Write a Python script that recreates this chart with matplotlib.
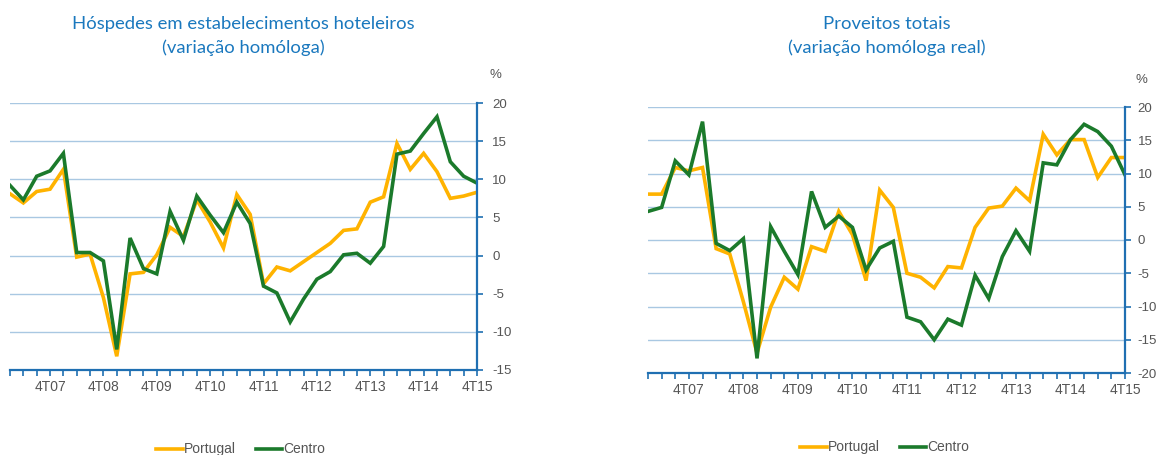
import matplotlib
matplotlib.use("Agg")
import matplotlib.pyplot as plt

plt.rcParams["axes.unicode_minus"] = False

# trimestres 1T07 .. 4T15
trimestres = [f"{q}T{a:02d}" for a in range(7, 16) for q in range(1, 5)]
etiquetas = ["4T07", "4T08", "4T09", "4T10", "4T11", "4T12", "4T13", "4T14", "4T15"]

# Hóspedes (variação homóloga)
hosp_portugal = [8.1, 6.9, 8.4, 8.7, 11.3, -0.2, 0.2, -5.5, -13.2, -2.4, -2.2, 0.1,
                 3.7, 2.5, 7.3, 4.4, 1.0, 8.0, 5.4, -3.7, -1.5, -2.0, -0.8, 0.4,
                 1.6, 3.3, 3.5, 7.0, 7.7, 14.7, 11.3, 13.4, 11.0, 7.5, 7.8, 8.3]
hosp_centro = [9.2, 7.3, 10.4, 11.1, 13.4, 0.4, 0.4, -0.7, -12.3, 2.3, -1.7, -2.4,
               5.8, 2.0, 7.8, 5.3, 3.0, 7.0, 4.2, -4.0, -4.9, -8.7, -5.7, -3.1,
               -2.1, 0.1, 0.3, -1.0, 1.2, 13.3, 13.7, 16.0, 18.2, 12.3, 10.4, 9.5]

# Proveitos totais (variação homóloga real)
prov_portugal = [6.9, 6.9, 10.9, 10.4, 10.9, -1.3, -2.1, -9.3, -17.0, -10.1, -5.6, -7.4,
                 -1.0, -1.7, 4.3, 0.8, -6.1, 7.5, 4.9, -5.0, -5.6, -7.2, -4.0, -4.2,
                 1.9, 4.8, 5.1, 7.8, 5.9, 15.9, 12.8, 15.1, 15.1, 9.4, 12.4, 12.4]
prov_centro = [4.3, 4.9, 11.9, 9.8, 17.8, -0.5, -1.6, 0.2, -17.8, 2.0, -1.7, -5.2,
               7.3, 1.9, 3.6, 1.9, -4.5, -1.2, -0.2, -11.6, -12.3, -15.0, -11.9, -12.8,
               -5.3, -8.8, -2.5, 1.4, -1.7, 11.6, 11.3, 15.1, 17.4, 16.3, 14.1, 9.8]

cor_pt = "#FFB300"
cor_ce = "#1B7A2B"
azul = "#1F6FB2"
cor_titulo = "#1A78BE"
grelha = "#A9C8E2"
cinza = "#555555"

W, H = 1157, 455
fig = plt.figure(figsize=(W / 100, H / 100), dpi=100)


def grafico(rect, pt, ce, ymin, titulo, legx, pos_pct, pad_y):
    ax = fig.add_axes(rect)
    x = list(range(len(trimestres)))
    ax.plot(x, pt, color=cor_pt, lw=2.6, solid_joinstyle="miter")
    ax.plot(x, ce, color=cor_ce, lw=2.6, solid_joinstyle="miter")
    ax.set_xlim(0, len(x) - 1)
    ax.set_ylim(ymin, 20)
    ax.yaxis.tick_right()
    ax.set_yticks(range(ymin, 21, 5))
    ax.set_xticks(x, minor=True)
    ax.set_xticks([trimestres.index(e) for e in etiquetas])
    ax.set_xticklabels(etiquetas)
    ax.tick_params(axis="x", which="both", length=4, width=1.2, color=azul,
                   direction="out", labelsize=10, labelcolor=cinza, pad=3)
    ax.tick_params(axis="y", length=4, width=1.2, color=azul, direction="out",
                   labelsize=9.5, labelcolor=cinza, pad=pad_y)
    for v in range(ymin + 5, 21, 5):
        ax.axhline(v, color=grelha, lw=1, zorder=0)
    for s in ["top", "left"]:
        ax.spines[s].set_visible(False)
    for s in ["bottom", "right"]:
        ax.spines[s].set_color(azul)
        ax.spines[s].set_linewidth(1.6)
    for lab in ax.get_xticklabels() + ax.get_yticklabels():
        lab.set_family("Liberation Sans")
    fig.text(pos_pct[0] / W, 1 - pos_pct[1] / H, "%", va="center", fontsize=9.5,
             color=cinza, family="Liberation Sans")
    # título em duas linhas
    cx = rect[0] + rect[2] / 2
    for i, linha in enumerate(titulo):
        fig.text(cx, 1 - (29 + 24 * i) / H, linha, ha="center", va="baseline",
                 fontsize=13.3, color=cor_titulo, family="Lato")
    # legenda
    x0, y0 = legx
    fig.add_artist(plt.Line2D([x0 / W, (x0 + 27) / W], [1 - y0 / H] * 2,
                              color=cor_pt, lw=2.6))
    fig.text((x0 + 28) / W, 1 - y0 / H, "Portugal", va="center", fontsize=10,
             color=cinza, family="Liberation Sans")
    fig.add_artist(plt.Line2D([(x0 + 100) / W, (x0 + 126) / W], [1 - y0 / H] * 2,
                              color=cor_ce, lw=2.6))
    fig.text((x0 + 127) / W, 1 - y0 / H, "Centro", va="center", fontsize=10,
             color=cinza, family="Liberation Sans")
    return ax


grafico([10 / W, 1 - 370 / H, 467 / W, 267 / H], hosp_portugal, hosp_centro, -15,
        ["Hóspedes em estabelecimentos hoteleiros", "(variação homóloga)"],
        (156, 449), (490, 75), 7)
grafico([648 / W, 1 - 373 / H, 477 / W, 266 / H], prov_portugal, prov_centro, -20,
        ["Proveitos totais", "(variação homóloga real)"],
        (800, 447), (1135, 80), 5)

fig.savefig("out.png", dpi=100)
